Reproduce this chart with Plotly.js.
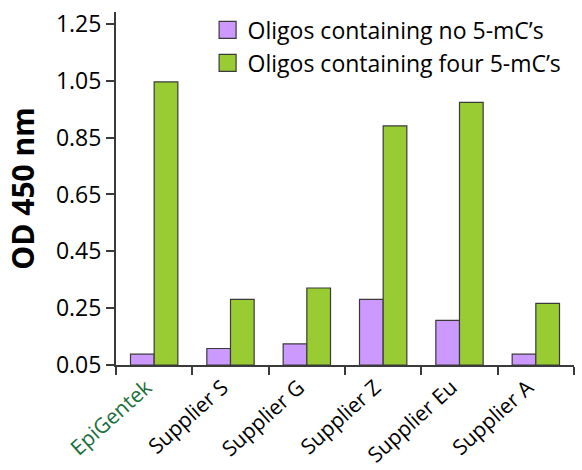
<!DOCTYPE html>
<html>
<head>
<meta charset="utf-8">
<script src="https://cdn.plot.ly/plotly-3.0.1.min.js"></script>
<style>html,body{margin:0;padding:0;background:#fff;}#chart{width:582px;height:470px;}</style>
</head>
<body>
<div id="chart"></div>
<script>
const categories = ["EpiGentek", "Supplier S", "Supplier G", "Supplier Z", "Supplier Eu", "Supplier A"];
const noMC = [0.088, 0.108, 0.124, 0.281, 0.207, 0.088];
const fourMC = [1.046, 0.281, 0.321, 0.891, 0.974, 0.267];
const yTicks = [0.05, 0.25, 0.45, 0.65, 0.85, 1.05, 1.25];
const yTickText = ["0.05", "0.25", "0.45", "0.65", "0.85", "1.05", "1.25"];
const baseValue = 0.05;
const tickText = categories.map((c, i) => i === 0 ? '<span style="color:#1a6e3c">' + c + '</span>' : c);

const FONT = "'Open Sans', Lato, sans-serif";
const traces = [
  {type: "bar", name: "Oligos containing no 5-mC’s", x: categories, y: noMC.map(v => v - baseValue),
   base: baseValue, marker: {color: "#cc99ff", line: {color: "#3a3a3a", width: 1.2}}},
  {type: "bar", name: "Oligos containing four 5-mC’s", x: categories, y: fourMC.map(v => v - baseValue),
   base: baseValue, marker: {color: "#99cc33", line: {color: "#3a3a3a", width: 1.2}}}
];

const layout = {
  width: 582, height: 470,
  margin: {l: 116, r: 8, t: 8, b: 105},
  paper_bgcolor: "#fff", plot_bgcolor: "#fff",
  font: {family: FONT, color: "#000"},
  barmode: "group", bargap: 0.38, bargroupgap: 0,
  showlegend: true,
  legend: {x: 0.2, y: 1.01, xanchor: "left", yanchor: "top", font: {size: 23, family: FONT, color: "#000"},
           bgcolor: "rgba(0,0,0,0)", tracegroupgap: 0},
  xaxis: {
    type: "category", tickvals: categories, ticktext: tickText,
    tickson: "boundaries", ticks: "outside", ticklen: 8, tickwidth: 2, tickcolor: "#3a3a3a",
    showline: true, linecolor: "#3a3a3a", linewidth: 2, showgrid: false,
    tickangle: -42, ticklabelshift: -8, tickfont: {size: 21, family: FONT, color: "#000"}
  },
  yaxis: {
    range: [0.05, 1.292], tickvals: yTicks, ticktext: yTickText,
    ticks: "outside", ticklen: 8, tickwidth: 2, tickcolor: "#3a3a3a",
    showline: true, linecolor: "#3a3a3a", linewidth: 2, showgrid: false, zeroline: false,
    tickfont: {size: 23, family: FONT, color: "#000"},
    title: {text: "<b>OD 450 nm</b>", font: {size: 30, family: FONT, color: "#000"}, standoff: 12}
  }
};
Plotly.newPlot("chart", traces, layout, {displayModeBar: false, staticPlot: true}).then(gd => {
  gd.querySelectorAll(".legendpoints path").forEach(p => {
    p.setAttribute("d", "M8.5,8.5H-8.5V-8.5H8.5Z");
    p.style.strokeWidth = "1.2px";
  });
});
</script>
</body>
</html>
